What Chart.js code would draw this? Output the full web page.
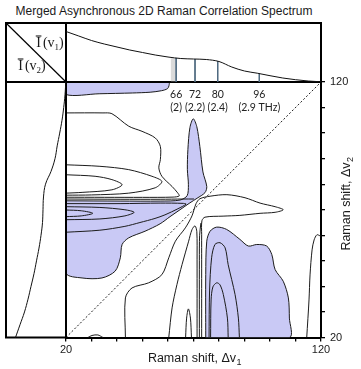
<!DOCTYPE html>
<html><head><meta charset="utf-8">
<script src="https://cdn.jsdelivr.net/npm/chart.js@4"></script>
<style>
html,body{margin:0;padding:0;background:#fff;}
body{width:361px;height:369px;position:relative;overflow:hidden;}
canvas{position:absolute;}
#title{position:absolute;left:0;top:4px;width:328px;text-align:center;font:12px "Liberation Sans",Arial,sans-serif;color:#1a1a1a;white-space:nowrap;}
</style></head><body>
<div id="title">Merged Asynchronous 2D Raman Correlation Spectrum</div>
<canvas id="main" width="361" height="369" style="left:0;top:0"></canvas>
<canvas id="topPanel" width="255" height="60" style="left:66px;top:22px"></canvas>
<canvas id="sidePanel" width="61" height="256" style="left:5px;top:82px"></canvas>
<script>
// ---------- data ----------
const axisMin = 20, axisMax = 120;
const axisTickLabels = [20, 120];
const wavenumber = [20,25,30,35,40,45,50,55,60,65,70,75,80,85,90,95,100,105,110,115,120];
const intensity  = [50.5,46,41.5,38,35,32,29.5,27,25,23.5,23,22.5,20.5,15,11,8.8,6.3,4,2.3,1,0.2];
const markerPos   = [63.2, 70.6, 79.5, 95.8];
const markerShade = [62.1];
const markerLabel = ['66', '72', '80', '96'];
const markerFreq  = ['(2)', '(2.2)', '(2.4)', '(2.9 THz)'];

// negative (shaded) regions, [Δv1, Δv2]
const negTopBand = [[20,120],[60.3,120],[60.4,118.6],[59.8,117.4],[57.5,116.6],[53,116],[46,115.7],[33,115.4],[20,115.1],[20,120]];
const negLeftRegion = [[20,73.5],[41.2,73.4],[56.9,73.4],[64.7,73.8],[67.5,75.5],[68,79.8],[67.6,85.7],[67.8,93.5],[68.6,102.2],[69.9,105.6],[71.3,102.5],[72.5,94.7],[73.7,84.8],[75.2,79.1],[74.5,76.7],[71.4,74.5],[68.6,72.7],[64.7,70],[60.8,67.3],[56.9,64.5],[51,61.6],[44.6,59],[42,56.4],[41.3,51.2],[39.3,46],[34.1,43.3],[26.3,43.3],[20,45.3],[20,73.5]];
const negRightRegion = [[74.8,20],[74.8,44.6],[75.2,57.7],[76.5,61.6],[79.1,63.2],[83,62.3],[88.2,58.4],[91.5,55.8],[94.8,56.4],[98.7,55.8],[100.7,52.5],[102,46.6],[105.2,42],[107.2,35.5],[107.6,27.6],[107.6,20],[74.8,20]];

// contour lines
const lobeB = [[20,107.9],[34.5,107.9],[38,107.6],[44.6,102.7],[49.8,100.7],[55,98.1],[57,94.8],[57,89.6],[56.4,86.4],[57.6,83.1],[61.6,79.1],[63.8,76.6],[64.4,75.4],[62,74.95],[50,74.85],[20,74.9]];
const lobeC = [[20,87.6],[33.3,87],[44.6,85.7],[53.7,83.1],[57.6,81.1],[55,78.6],[44.6,76.5],[30,75.8],[20,75.7]];
const lobeD = [[20,83.7],[31.4,83.1],[38,81.8],[42,79.8],[38,77.8],[26.3,76.8],[20,76.5]];
const lineX = [[20,74.2],[41.2,74.1],[56.9,74.1],[65.9,74.2],[70.2,74.2]];
const negE = [[20,69.9],[26,69.6],[30.5,68.6],[26,67.6],[20,67.3]];
const negF = [[20,71.2],[33.3,70.9],[43.1,70],[46.7,69],[43.1,67.6],[33.3,66.4],[20,66.1]];
const negG = [[20,72.4],[41.2,72.4],[56.9,72.6],[65.9,72.5],[67.1,72.2],[63.9,70.4],[58.8,68],[54.9,66.6],[49,65],[43.1,63.5],[33.3,62],[20,61.2]];
const lobeM = [[43.3,20],[43.3,35.5],[45.9,39.4],[52.4,41.4],[57.6,44.6],[60.3,51.2],[62.9,57.7],[66.8,62.9],[69.4,67.6],[71,72.4],[72.5,74.3],[76.5,75.3],[83.1,75.9],[90.2,74.7],[96.1,72.6],[102,71.2],[105.2,70],[102,69],[96.1,68.6],[88.2,67.8],[81.6,67.5],[74.5,67.1],[73.3,65.7],[73.2,60.2],[73.2,50.4],[73.2,20]];
const lobeN = [[60.3,20],[61.6,31.6],[63.5,40.7],[65.5,48.5],[68.1,57.7],[69.4,62.2],[70.6,63.7],[71.3,61.4],[71.4,50.4],[71.4,20]];
const lineQ = [[72.3,20],[72.3,50],[72.4,60],[72.9,64.8]];
const lobeO = [[66.9,20],[67.3,27.6],[68,31.2],[68.8,27.6],[69.2,20]];
const negJ = [[76.1,20],[76.3,38.2],[77.1,51.2],[78.4,56.4],[80.4,57.1],[82.4,55.1],[83.6,48.5],[86.3,36.8],[87.6,27.6],[88,20]];
const negK = [[76.7,20],[76.9,34.7],[77.6,39.8],[79.1,41.4],[80.4,40.6],[81.7,36.8],[83.3,27.6],[83.6,20]];
const lineP = [[114.4,20],[115.3,34.7],[115.7,44.5],[116.5,54.3],[117.3,58.2],[118.4,60.2],[119.6,59.8],[120.5,59.5]];
const blob = [[28.6,20],[30.2,20.8],[32.5,21],[34.5,20]];
const diagonal = [[20,20],[120,120]];

// ---------- helpers ----------
const LINE = '#1c1c1c';
const FILL = 'rgb(201,201,245)';
const toPts = a => a.map(p => ({x: p[0], y: p[1]}));
const fillSet = a => ({data: toPts(a), showLine: true, fill: 'shape', backgroundColor: FILL, borderColor: LINE, borderWidth: 1, pointRadius: 0, tension: 0.3, order: 2, clip: 0});
const lineSet = a => ({data: toPts(a), showLine: true, fill: false, borderColor: LINE, borderWidth: 1, pointRadius: 0, tension: 0.3, order: 1, clip: 0});
function specAt(u) {
  for (let i = 0; i < wavenumber.length - 1; i++) {
    if (u >= wavenumber[i] && u <= wavenumber[i+1]) {
      const t = (u - wavenumber[i]) / (wavenumber[i+1] - wavenumber[i]);
      return intensity[i] + t * (intensity[i+1] - intensity[i]);
    }
  }
  return 0;
}
const SANS = '"Liberation Sans", Arial, sans-serif';
const SERIF = '"Liberation Serif", "Times New Roman", serif';

function subText(ctx, main, sub, cx, cy, size) {
  ctx.font = size + 'px ' + SANS;
  const w1 = ctx.measureText(main).width;
  ctx.font = (size * 0.72) + 'px ' + SANS;
  const w2 = ctx.measureText(sub).width;
  let x = cx - (w1 + w2) / 2;
  ctx.textBaseline = 'middle'; ctx.textAlign = 'left';
  ctx.font = size + 'px ' + SANS;
  ctx.fillText(main, x, cy);
  ctx.font = (size * 0.72) + 'px ' + SANS;
  ctx.fillText(sub, x + w1 + 0.5, cy + size * 0.28);
}
function ibar(ctx, cx, cy, sub) {
  const f = '14px ' + SERIF, fs = '9px ' + SERIF;
  ctx.font = f;
  const wI = ctx.measureText('I').width, wP = ctx.measureText('(v').width, wC = ctx.measureText(')').width;
  ctx.font = fs;
  const wS = ctx.measureText(sub).width;
  const gap = 2;
  let x = cx - (wI + gap + wP + wS + wC) / 2;
  const base = cy + 4;
  ctx.textBaseline = 'alphabetic'; ctx.textAlign = 'left';
  ctx.font = f; ctx.fillText('I', x, base);
  ctx.lineWidth = 1; ctx.beginPath();
  ctx.moveTo(x - 0.5, base - 11); ctx.lineTo(x + wI + 0.5, base - 11); ctx.stroke();
  x += wI + gap;
  ctx.fillText('(v', x, base); x += wP;
  ctx.font = fs; ctx.fillText(sub, x, base + 3); x += wS;
  ctx.font = f; ctx.fillText(')', x, base);
}

const framePlugin = {
  id: 'frame',
  afterDraw(chart) {
    const ctx = chart.ctx, a = chart.chartArea, xs = chart.scales.x;
    const L = 6, T = 23;
    ctx.save();
    ctx.strokeStyle = '#000'; ctx.fillStyle = '#1a1a1a';
    ctx.lineWidth = 2;
    ctx.beginPath();
    ctx.moveTo(L - 1, T); ctx.lineTo(a.right + 1, T);
    ctx.moveTo(L, T); ctx.lineTo(L, a.bottom + 1);
    ctx.moveTo(a.right, T); ctx.lineTo(a.right, a.top);
    ctx.moveTo(L - 1, a.bottom); ctx.lineTo(a.left, a.bottom);
    ctx.moveTo(a.left, T); ctx.lineTo(a.left, a.bottom);
    ctx.moveTo(L, a.top); ctx.lineTo(a.right, a.top);
    ctx.stroke();
    ctx.lineWidth = 1.2;
    ctx.beginPath(); ctx.moveTo(L, T); ctx.lineTo(a.left, a.top); ctx.stroke();
    // corner labels
    ibar(ctx, 50, 43, '1');
    ibar(ctx, 32, 66, '2');
    // marker labels
    ctx.fillStyle = '#222';
    ctx.textAlign = 'center'; ctx.textBaseline = 'middle';
    ctx.font = '10.5px Lato, "Open Sans", sans-serif';
    markerPos.forEach((p, i) => {
      const x = xs.getPixelForValue(p);
      ctx.fillText(markerLabel[i], x, a.top + 13);
      ctx.fillText(markerFreq[i], x, a.top + 25.5);
    });
    // axis titles
    ctx.fillStyle = '#1a1a1a';
    subText(ctx, 'Raman shift, \u0394v', '1', (a.left + a.right) / 2 + 1, 359, 12.5);
    ctx.save();
    ctx.translate(347, 204);
    ctx.rotate(-Math.PI / 2);
    subText(ctx, 'Raman shift, \u0394v', '2', 0, 0, 12.5);
    ctx.restore();
    ctx.restore();
  }
};

const tickFont = {family: SANS, size: 11};
const tickCb = v => axisTickLabels.includes(v) ? String(v) : '';

new Chart(document.getElementById('main'), {
  type: 'scatter',
  data: {datasets: [
    fillSet(negTopBand), fillSet(negLeftRegion), fillSet(negRightRegion),
    lineSet(lobeB), lineSet(lobeC), lineSet(lobeD), lineSet(lineX),
    lineSet(negE), lineSet(negF), lineSet(negG),
    lineSet(lobeM), lineSet(lobeN), lineSet(lineQ), lineSet(lobeO),
    lineSet(negJ), lineSet(negK), lineSet(lineP), lineSet(blob),
    {data: toPts(diagonal), showLine: true, borderColor: '#222', borderWidth: 1, borderDash: [2, 2], pointRadius: 0, order: 0, clip: 0}
  ]},
  options: {
    responsive: false, animation: false, devicePixelRatio: 1, events: [],
    layout: {padding: {left: 66, top: 82, right: 0, bottom: 0}},
    plugins: {legend: {display: false}, tooltip: {enabled: false}, title: {display: false}},
    scales: {
      x: {type: 'linear', position: 'bottom', min: axisMin, max: axisMax,
        afterFit(s) { s.height = 31.5; },
        grid: {drawOnChartArea: false, drawTicks: true, tickLength: 4, color: '#000', lineWidth: 1.3},
        border: {display: true, color: '#000', width: 2},
        ticks: {stepSize: 10, autoSkip: false, maxRotation: 0, color: '#1a1a1a', font: tickFont, padding: 2, callback: tickCb}},
      y: {type: 'linear', position: 'right', min: axisMin, max: axisMax,
        afterFit(s) { s.width = 40; },
        grid: {drawOnChartArea: false, drawTicks: true, tickLength: 4, color: '#000', lineWidth: 1.3},
        border: {display: true, color: '#000', width: 2},
        ticks: {stepSize: 10, autoSkip: false, color: '#1a1a1a', font: tickFont, padding: 5, callback: tickCb}}
    }
  },
  plugins: [framePlugin]
});

// top spectrum panel
const markerSets = markerPos.map(p => ({data: [{x: p, y: specAt(p)}, {x: p, y: 0}], showLine: true, borderColor: '#4f6a80', borderWidth: 1, pointRadius: 0}));
const shadeSets = markerShade.map(p => ({data: [{x: p, y: specAt(p) - 0.5}, {x: p, y: 0}], showLine: true, borderColor: 'rgba(150,150,150,0.35)', borderWidth: 5, pointRadius: 0}));
new Chart(document.getElementById('topPanel'), {
  type: 'scatter',
  data: {datasets: [
    {data: wavenumber.map((w, i) => ({x: w, y: intensity[i]})), showLine: true, borderColor: '#111', borderWidth: 1, pointRadius: 0, cubicInterpolationMode: 'monotone'},
    ...markerSets, ...shadeSets
  ]},
  options: {
    responsive: false, animation: false, devicePixelRatio: 1, events: [],
    layout: {padding: 0},
    plugins: {legend: {display: false}, tooltip: {enabled: false}},
    scales: {x: {display: false, min: axisMin, max: axisMax}, y: {display: false, min: 0, max: 60}}
  }
});

// left spectrum panel
new Chart(document.getElementById('sidePanel'), {
  type: 'scatter',
  data: {datasets: [
    {data: wavenumber.map((w, i) => ({x: intensity[i], y: w})), showLine: true, borderColor: '#111', borderWidth: 1, pointRadius: 0, tension: 0.4}
  ]},
  options: {
    responsive: false, animation: false, devicePixelRatio: 1, events: [],
    layout: {padding: 0},
    plugins: {legend: {display: false}, tooltip: {enabled: false}},
    scales: {x: {display: false, reverse: true, min: 0, max: 61}, y: {display: false, min: 19.804, max: axisMax}}
  }
});
</script>
</body></html>
